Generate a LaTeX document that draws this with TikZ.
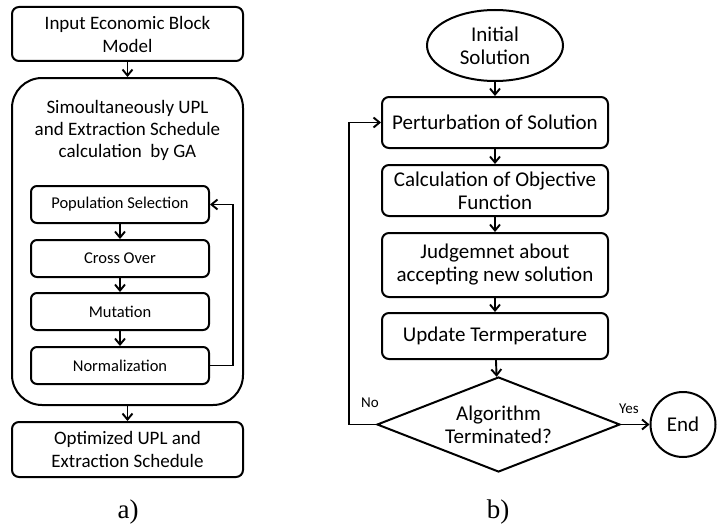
\documentclass[tikz,border=0pt]{standalone}
\usepackage{fontspec}
\setmainfont{Carlito}
\newfontfamily\capfont{Liberation Serif}
\usetikzlibrary{shapes.geometric,arrows.meta}

\tikzset{
    arr/.style={-{Straight Barb[length=6pt,width=10pt]}, line width=1.9pt},
    bigbox/.style={draw, line width=2pt, rounded corners=7pt, inner sep=0pt,
        minimum width=231pt, align=center, font=\fontsize{19}{23}\selectfont},
    gabox/.style={draw, line width=2pt, rounded corners=6pt, inner sep=0pt,
        minimum width=178pt, minimum height=37pt, font=\fontsize{16.5}{20}\selectfont},
    sabox/.style={draw, line width=2pt, rounded corners=7pt, inner sep=0pt,
        minimum width=226pt, align=center, font=\fontsize{21}{23}\selectfont},
    lbl/.style={font=\fontsize{15}{17}\selectfont},
    captext/.style={font=\capfont\fontsize{27}{29}\selectfont},
}

\begin{document}
\begin{tikzpicture}[x=1pt, y=-1pt]
    \useasboundingbox (0, 0) rectangle (717, 527);

    % a) genetic algorithm
    \node[bigbox, minimum height=54pt] (input) at (127.5, 34) {Input Economic Block\\Model};
    \node[bigbox, minimum height=327pt, rounded corners=30pt] (ga) at (127.5, 241.5) {};
    \node[align=center, font=\fontsize{19}{22}\selectfont] (gatitle) at (127.5, 130)
        {Simoultaneously UPL\\and Extraction Schedule\\calculation~ by GA};
    \node[gabox] (popsel) at (120, 204.5) {Population Selection};
    \node[gabox] (cross) at (120, 258.5) {Cross Over};
    \node[gabox] (mutat) at (120, 311.5) {Mutation};
    \node[gabox] (normal) at (120, 365.5) {Normalization};
    \node[bigbox, minimum height=55pt] (output) at (127.5, 449.5) {Optimized UPL and\\Extraction Schedule};
    \node[captext] (capa) at (128, 512) {a)};

    \draw[arr] (input) -- (ga);
    \draw[arr] (ga) -- (output);
    \draw[arr] (popsel) -- (cross);
    \draw[arr] (cross) -- (mutat);
    \draw[arr] (mutat) -- (normal);
    \draw[arr] (normal.east) -- ++(23, 0) |- (popsel.east);

    % b) simulated annealing
    \node[ellipse, draw, line width=2pt, inner sep=0pt, minimum width=136pt,
        minimum height=71pt, align=center, font=\fontsize{21}{23}\selectfont]
        (init) at (495, 45.5) {Initial\\Solution};
    \node[sabox, minimum height=51pt] (pert) at (495, 122.5) {Perturbation of Solution};
    \node[sabox, minimum height=51pt] (calc) at (495, 190.5) {Calculation of Objective\\Function};
    \node[sabox, minimum height=64pt] (judge) at (495, 265) {Judgemnet about\\accepting new solution};
    \node[sabox, minimum height=46pt] (update) at (495, 336) {Update Termperature};
    \node[diamond, draw, line width=2pt, inner sep=0pt, aspect=2.56, minimum width=243pt,
        minimum height=95pt, align=center, font=\fontsize{21}{23}\selectfont]
        (term) at (498.5, 424.5) {Algorithm\\Terminated?};
    \node[circle, draw, line width=2pt, inner sep=0pt, minimum size=65pt,
        font=\fontsize{21}{23}\selectfont] (finish) at (683, 424.5) {End};
    \node[lbl] (nolbl) at (370, 403) {No};
    \node[lbl] (yeslbl) at (629, 409) {Yes};
    \node[captext] (capb) at (498, 512) {b)};

    \draw[arr] (init) -- (pert);
    \draw[arr] (pert) -- (calc);
    \draw[arr] (calc) -- (judge);
    \draw[arr] (judge) -- (update);
    \draw[arr] (update) -- (term);
    \draw[arr] (term.west) -- ++(-27, 0) |- (pert.west);
    \draw[arr] (term.east) -- (finish.west);
\end{tikzpicture}
\end{document}
